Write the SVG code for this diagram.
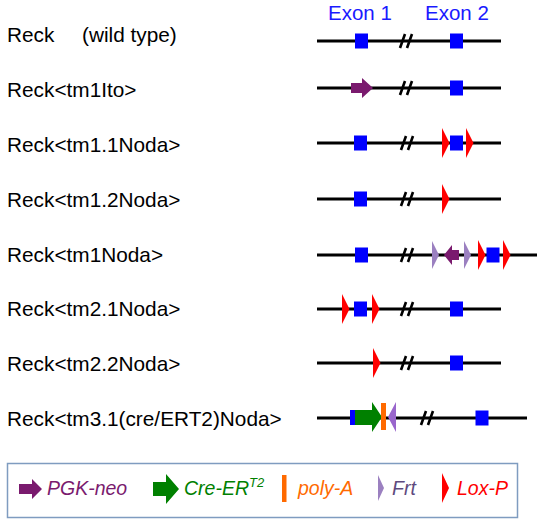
<svg xmlns="http://www.w3.org/2000/svg" width="550" height="520" viewBox="0 0 550 520">
<style>
.lbl{font-family:"Liberation Sans",Arial,sans-serif;font-size:20.8px;fill:#000}
.ex{font-family:"Liberation Sans",Arial,sans-serif;font-size:20.5px;fill:#1a1aff}
.leg{font-family:"Liberation Sans",Arial,sans-serif;font-size:19.5px;font-style:italic}
.dna{stroke:#000;stroke-width:3;fill:none}
.brk{stroke:#000;stroke-width:2.6;fill:none}
</style>
<defs>
<rect id="exon" x="-6.5" y="-7.5" width="13" height="15" fill="#0000ff"/>
<path id="lox" d="M0,-15 L7.5,0 L0,15 Z" fill="#ff0000"/>
<path id="frt" d="M0,-14 L7,0 L0,14 Z" fill="#9b80c0"/>
<path id="brkmark" class="brk" d="M-6,7 L-1,-7 M1,7 L6,-7"/>
</defs>
<rect width="550" height="520" fill="#fff"/>

<g id="exon-labels">
<text class="ex" x="328" y="20">Exon 1</text>
<text class="ex" x="425" y="20">Exon 2</text>
</g>

<g id="labels">
<text class="lbl" x="7" y="42">Reck<tspan x="82">(wild type)</tspan></text>
<text class="lbl" x="7" y="97">Reck&lt;tm1Ito&gt;</text>
<text class="lbl" x="7" y="152">Reck&lt;tm1.1Noda&gt;</text>
<text class="lbl" x="7" y="207">Reck&lt;tm1.2Noda&gt;</text>
<text class="lbl" x="7" y="262">Reck&lt;tm1Noda&gt;</text>
<text class="lbl" x="7" y="316">Reck&lt;tm2.1Noda&gt;</text>
<text class="lbl" x="7" y="371">Reck&lt;tm2.2Noda&gt;</text>
<text class="lbl" x="7" y="426">Reck&lt;tm3.1(cre/ERT2)Noda&gt;</text>
</g>

<g id="row1">
<line class="dna" x1="317" y1="41" x2="501" y2="41"/>
<use href="#exon" x="361.5" y="41"/>
<use href="#brkmark" x="406" y="41"/>
<use href="#exon" x="456.5" y="41"/>
</g>

<g id="row2">
<line class="dna" x1="317" y1="88" x2="501" y2="88"/>
<path d="M351,83 H362 V78 L373,88 L362,98 V93 H351 Z" fill="#7a1a6e"/>
<use href="#brkmark" x="406" y="88"/>
<use href="#exon" x="456.5" y="88"/>
</g>

<g id="row3">
<line class="dna" x1="317" y1="143" x2="501" y2="143"/>
<use href="#exon" x="360.5" y="143"/>
<use href="#brkmark" x="407" y="143"/>
<use href="#lox" x="442" y="143"/>
<use href="#exon" x="456.5" y="143"/>
<use href="#lox" x="466" y="143"/>
</g>

<g id="row4">
<line class="dna" x1="317" y1="199" x2="501" y2="199"/>
<use href="#exon" x="360.5" y="199"/>
<use href="#brkmark" x="407" y="199"/>
<use href="#lox" x="442" y="199"/>
</g>

<g id="row5">
<line class="dna" x1="317" y1="255" x2="537" y2="255"/>
<use href="#exon" x="361.5" y="255"/>
<use href="#brkmark" x="407" y="255"/>
<use href="#frt" x="432" y="255"/>
<path d="M444,255 L452,245 V250 H459 V260 H452 V265 Z" fill="#7a1a6e"/>
<use href="#frt" x="464" y="255"/>
<use href="#lox" x="478" y="255"/>
<use href="#exon" x="493" y="255"/>
<use href="#lox" x="503" y="255"/>
</g>

<g id="row6">
<line class="dna" x1="317" y1="309" x2="501" y2="309"/>
<use href="#lox" x="342" y="309"/>
<use href="#exon" x="360.5" y="309"/>
<use href="#lox" x="372" y="309"/>
<use href="#brkmark" x="407" y="309"/>
<use href="#exon" x="456.5" y="309"/>
</g>

<g id="row7">
<line class="dna" x1="317" y1="363" x2="501" y2="363"/>
<use href="#lox" x="373" y="363"/>
<use href="#brkmark" x="407" y="363"/>
<use href="#exon" x="456.5" y="363"/>
</g>

<g id="row8">
<line class="dna" x1="317" y1="418" x2="527" y2="418"/>
<rect x="350" y="410" width="6" height="15" fill="#0000ff"/>
<path d="M355,410 H372 V402 L382,417 L372,432 V425 H355 Z" fill="#008000"/>
<rect x="381" y="403" width="5" height="27" fill="#ff6a00"/>
<path d="M388,417 L396,402 V432 Z" fill="#9966cc"/>
<use href="#brkmark" x="427" y="418"/>
<use href="#exon" x="482" y="418"/>
</g>

<g id="legend">
<rect x="7.5" y="463.5" width="510" height="54" fill="none" stroke="#7f9cc0" stroke-width="1.5"/>
<path d="M19,484 H32 V479 L42,489 L32,499 V494 H19 Z" fill="#7a1a6e"/>
<text class="leg" x="47" y="495" fill="#7a1a6e">PGK-neo</text>
<path d="M153,482 H166 V474 L179,489 L166,504 V496 H153 Z" fill="#008000"/>
<text class="leg" x="184" y="495" fill="#008000">Cre-ER<tspan font-size="13" dy="-8">T2</tspan></text>
<rect x="282" y="475" width="4.5" height="27" fill="#ff6a00"/>
<text class="leg" x="298" y="495" fill="#ff6a00">poly-A</text>
<path d="M378,475 L384,488 L378,501 Z" fill="#9b80c0"/>
<text class="leg" x="392" y="495" fill="#5e4a7e">Frt</text>
<path d="M442,473 L449,488 L442,503 Z" fill="#ff0000"/>
<text class="leg" x="457" y="495" fill="#ff0000">Lox-P</text>
</g>
</svg>
